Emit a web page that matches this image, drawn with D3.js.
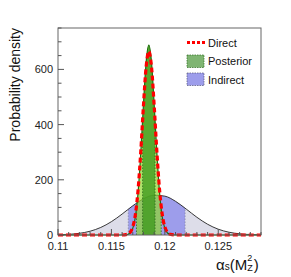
<!DOCTYPE html>
<html>
<head>
<meta charset="utf-8">
<script src="https://cdn.jsdelivr.net/npm/d3@7"></script>
<style>
  html, body { margin: 0; padding: 0; background: #fff; }
  svg { display: block; font-family: "Liberation Sans", Arial, sans-serif; }
</style>
</head>
<body>
<svg id="chart" width="291" height="277"></svg>
<script>
// ------------------------------------------------------------
// alpha_s(M_Z^2) probability densities: direct, indirect, posterior
// ------------------------------------------------------------

// Direct determination (red dashed)
const DIRECT_X = [0.110, 0.1160, 0.1165, 0.11675, 0.1170, 0.11725, 0.1175, 0.11775, 0.1180, 0.11825,
  0.1185, 0.11875, 0.1190, 0.11925, 0.1195, 0.11975, 0.1200, 0.12025, 0.1205, 0.1210, 0.129];
const DIRECT_Y = [0, 0, 2.6, 9.5, 29, 76, 166, 304, 470, 610,
  665, 610, 470, 304, 166, 76, 29, 9.5, 2.6, 0, 0];

// Posterior (green)
const POST_X = DIRECT_X;
const POST_Y = [0, 0, 1.8, 7.3, 24, 67, 156, 298, 474, 627,
  688, 627, 474, 298, 156, 67, 24, 7.3, 1.8, 0, 0];
const POST_BAND1 = [0.11792, 0.11908];   // inner band
const POST_BAND2 = [0.11734, 0.11966];   // outer band

// Indirect determination (blue)
const IND_X = [0.110, 0.111, 0.112, 0.113, 0.114, 0.115, 0.116, 0.117, 0.118, 0.119,
  0.120, 0.121, 0.122, 0.123, 0.124, 0.125, 0.126, 0.127, 0.128, 0.129];
const IND_Y = [0.85, 2.4, 6.1, 13.7, 27.3, 48.3, 75.9, 105.9, 131.1, 144.2,
  140.8, 122.1, 94.0, 64.2, 39.0, 21.0, 10.1, 4.3, 1.6, 0.5];
const IND_BAND = [0.11658, 0.12189];

const X_TICKS = [0.11, 0.115, 0.12, 0.125];
const X_TICK_LABELS = ['0.11', '0.115', '0.12', '0.125'];
const Y_TICKS = [0, 200, 400, 600];

const LEGEND = ['Direct', 'Posterior', 'Indirect'];

// ------------------------------------------------------------
const svg = d3.select('#chart');
const L = 58, R = 261, T = 28, B = 235;

const x = d3.scaleLinear().domain([0.110, 0.129]).range([L, R]);
const y = d3.scaleLinear().domain([0, 750]).range([B, T]);

const toPts = (xs, ys) => xs.map((v, i) => ({ x: v, y: ys[i] }));
const direct = toPts(DIRECT_X, DIRECT_Y);
const post = toPts(POST_X, POST_Y);
const ind = toPts(IND_X, IND_Y);

const area = d3.area().x(d => x(d.x)).y0(B).y1(d => y(d.y)).curve(d3.curveMonotoneX);
const line = d3.line().x(d => x(d.x)).y(d => y(d.y)).curve(d3.curveMonotoneX);

// linear lookup of a curve value (for the band edge markers)
function valueAt(pts, v) {
  const i = d3.bisector(d => d.x).right(pts, v);
  if (i <= 0) return pts[0].y;
  if (i >= pts.length) return pts[pts.length - 1].y;
  const a = pts[i - 1], b = pts[i];
  return a.y + (b.y - a.y) * (v - a.x) / (b.x - a.x);
}

const defs = svg.append('defs');
function bandClip(id, band) {
  defs.append('clipPath').attr('id', id)
    .append('rect')
      .attr('x', x(band[0])).attr('y', T)
      .attr('width', x(band[1]) - x(band[0])).attr('height', B - T);
}
bandClip('clipInd', IND_BAND);
bandClip('clipPost1', POST_BAND1);
bandClip('clipPost2', POST_BAND2);
defs.append('clipPath').attr('id', 'clipFrame')
  .append('rect').attr('x', L).attr('y', T - 2).attr('width', R - L).attr('height', B - T + 4);

const g = svg.append('g').attr('clip-path', 'url(#clipFrame)');

// Indirect
g.append('path').datum(ind).attr('d', area).attr('fill', '#dddde9');
g.append('path').datum(ind).attr('d', area).attr('fill', '#9d9deb').attr('clip-path', 'url(#clipInd)');
IND_BAND.forEach(v => {
  g.append('line')
    .attr('x1', x(v)).attr('x2', x(v))
    .attr('y1', B).attr('y2', y(valueAt(ind, v)))
    .attr('stroke', '#8888aa').attr('stroke-width', 0.8).attr('stroke-dasharray', '1.5,1.5');
});
g.append('path').datum(ind).attr('d', line)
  .attr('fill', 'none').attr('stroke', '#222').attr('stroke-width', 0.9);

// Posterior
g.append('path').datum(post).attr('d', area)
  .attr('fill', '#8fd62e').attr('fill-opacity', 0.7).attr('clip-path', 'url(#clipPost2)');
g.append('path').datum(post).attr('d', area)
  .attr('fill', '#3f9a1e').attr('fill-opacity', 0.78).attr('clip-path', 'url(#clipPost1)');
POST_BAND1.concat(POST_BAND2).forEach(v => {
  g.append('line')
    .attr('x1', x(v)).attr('x2', x(v))
    .attr('y1', B).attr('y2', y(valueAt(post, v)))
    .attr('stroke', '#2d6a1e').attr('stroke-width', 0.8).attr('stroke-dasharray', '1.5,1.5');
});
g.append('path').datum(post).attr('d', line)
  .attr('fill', 'none').attr('stroke', '#1f6e12').attr('stroke-width', 1.2);

// Direct
g.append('path').datum(direct).attr('d', line)
  .attr('fill', 'none').attr('stroke', '#ff0000').attr('stroke-width', 3.2)
  .attr('stroke-dasharray', '5,3');

// Frame
svg.append('rect')
  .attr('x', L).attr('y', T).attr('width', R - L).attr('height', B - T)
  .attr('fill', 'none').attr('stroke', '#666').attr('stroke-width', 1);

// Axes: ticks inside the frame
const yAxis = svg.append('g');
y.ticks(15).forEach(v => {
  const major = Y_TICKS.includes(v);
  yAxis.append('line')
    .attr('x1', L).attr('x2', L + (major ? 6 : 3.5))
    .attr('y1', y(v)).attr('y2', y(v))
    .attr('stroke', '#555').attr('stroke-width', 1);
});
Y_TICKS.forEach(v => {
  yAxis.append('text')
    .attr('x', L - 5).attr('y', y(v) + 4)
    .attr('text-anchor', 'end').attr('font-size', 11).attr('fill', '#222')
    .text(v);
});

const xAxis = svg.append('g');
d3.range(110, 130).map(k => k / 1000).forEach(v => {
  const major = X_TICKS.some(t => Math.abs(t - v) < 1e-9);
  xAxis.append('line')
    .attr('x1', x(v)).attr('x2', x(v))
    .attr('y1', B).attr('y2', B - (major ? 6 : 3))
    .attr('stroke', '#555').attr('stroke-width', 1);
});
X_TICKS.forEach((v, i) => {
  xAxis.append('text')
    .attr('x', x(v)).attr('y', 249.5)
    .attr('text-anchor', 'middle').attr('font-size', 11).attr('fill', '#222')
    .text(X_TICK_LABELS[i]);
});

// Axis titles
svg.append('text')
  .attr('transform', `translate(20,${T}) rotate(-90)`)
  .attr('text-anchor', 'end').attr('font-size', 14).attr('fill', '#111')
  .text('Probability density');

const xt = svg.append('text')
  .attr('x', 216).attr('y', 270).attr('font-size', 15).attr('fill', '#111');
xt.append('tspan').text('α');
xt.append('tspan').attr('font-size', 10).text('s');
xt.append('tspan').text('(M');
xt.append('tspan').attr('font-size', 9).attr('dy', -9).text('2');
xt.append('tspan').attr('font-size', 9).attr('dx', -5).attr('dy', 10).text('Z');
xt.append('tspan').attr('dy', -1).attr('dx', 1).text(')');

// Legend
const lg = svg.append('g').attr('font-size', 11).attr('fill', '#111');
lg.append('line')
  .attr('x1', 187).attr('x2', 205).attr('y1', 42.5).attr('y2', 42.5)
  .attr('stroke', '#ff0000').attr('stroke-width', 3).attr('stroke-dasharray', '3,2');
lg.append('rect').attr('x', 187).attr('y', 55).attr('width', 17).attr('height', 12.5)
  .attr('fill', '#7fb572').attr('stroke', '#2d6a1e').attr('stroke-width', 0.7).attr('stroke-dasharray', '1.5,1');
lg.append('rect').attr('x', 187).attr('y', 73).attr('width', 17).attr('height', 12.5)
  .attr('fill', '#9d9deb').attr('stroke', '#555577').attr('stroke-width', 0.7).attr('stroke-dasharray', '1.5,1');
[46.5, 65, 83.5].forEach((yy, i) => {
  lg.append('text').attr('x', 208).attr('y', yy).text(LEGEND[i]);
});
</script>
</body>
</html>
